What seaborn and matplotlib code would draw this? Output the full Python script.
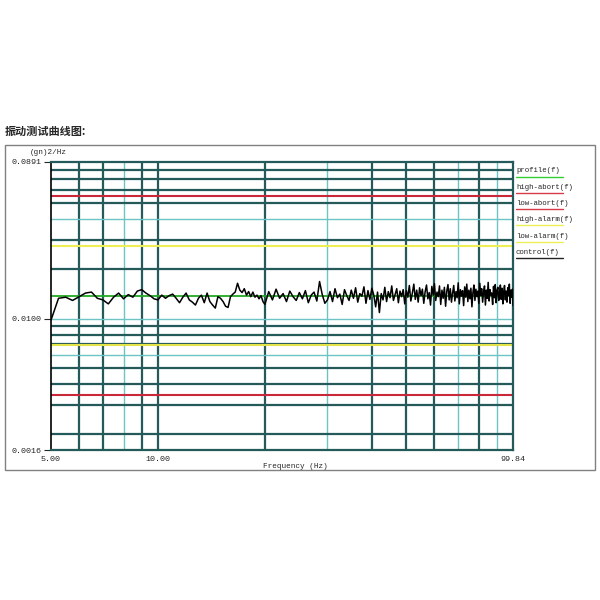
import numpy as np
import seaborn as sns
import matplotlib.pyplot as plt
from matplotlib.patches import Rectangle
from matplotlib.lines import Line2D

# ---- data (PSD in 1e-3 (gn)^2/Hz) ----
# 5-10 Hz and 10-20 Hz at 0.25 Hz, 20-30 Hz and 30-100 Hz at 0.5 Hz
ctrl_5_10 = [9.8, 13.3, 13.5, 12.9, 13.6, 14.3, 14.5, 13.3, 13.0, 12.3,
             13.5, 14.3, 13.2, 14.0, 13.5, 14.7, 15.0, 14.3, 13.8, 13.2]
ctrl_10_20 = [13.0, 13.9, 13.3, 13.8, 14.1, 13.3, 12.5, 13.5, 14.3, 13.0,
              12.6, 12.1, 13.3, 13.9, 12.5, 14.3, 12.7, 12.1, 11.6, 13.6,
              13.3, 12.7, 11.9, 11.7, 13.6, 14.1, 14.5, 16.4, 14.9, 14.4,
              15.2, 13.9, 14.6, 13.6, 14.5, 13.5, 13.9, 13.2, 13.8, 12.7]
ctrl_20_30 = [12.2, 14.6, 13.0, 15.1, 13.3, 14.2, 12.7, 14.7, 13.6, 12.9,
              14.4, 13.2, 14.8, 12.5, 13.9, 14.5, 12.8, 16.8, 14.0, 12.4]
ctrl_30_100 = [13.0, 14.6, 12.7, 15.2, 13.4, 14.1, 12.2, 15.0, 13.8, 12.9,
               14.9, 13.3, 15.4, 12.6, 14.2, 13.7, 15.6, 12.4, 14.8, 13.1,
               15.3, 13.9, 11.8, 14.5, 10.9, 14.2, 13.0, 15.5, 12.7, 14.6,
               13.4, 15.8, 12.9, 14.0, 15.2, 12.5, 14.7, 13.6, 15.0, 12.3,
               14.8, 13.5, 15.9, 12.8, 14.3, 16.2, 13.1, 14.9, 12.6, 15.4,
               13.8, 15.1, 12.4, 14.6, 16.0, 13.2, 14.4, 12.1, 15.7, 13.9,
               16.3, 12.9, 14.5, 13.6, 15.8, 12.2, 14.9, 13.3, 15.5, 11.9,
               14.7, 16.1, 13.0, 15.2, 12.6, 14.3, 15.9, 12.8, 14.6, 13.4,
               16.5, 12.3, 15.0, 13.7, 14.8, 12.0, 15.6, 13.5, 16.2, 12.7,
               14.9, 13.2, 15.3, 11.8, 14.4, 16.0, 12.9, 15.1, 13.6, 14.7,
               12.4, 16.4, 13.8, 15.2, 12.6, 14.5, 15.8, 12.1, 14.9, 13.3,
               16.6, 12.8, 15.0, 13.9, 14.3, 12.2, 15.7, 13.4, 16.1, 12.5,
               14.8, 15.5, 12.9, 14.2, 16.0, 13.1, 15.3, 12.3, 14.6, 15.9,
               13.0, 14.7, 12.6, 15.4, 13.8, 16.2, 12.4, 14.9, 13.5, 15.1,
               12.0]

freq = np.concatenate([np.arange(5.0, 20.0, 0.25),
                       np.arange(20.0, 100.0, 0.5), [99.84]])
control = np.array(ctrl_5_10 + ctrl_10_20 + ctrl_20_30 + ctrl_30_100) * 1e-3

profile = 0.0138
limits = [("high-abort(f)", 0.0552, "#c8283a"),
          ("low-abort(f)", 0.00345, "#c8283a"),
          ("high-alarm(f)", 0.0276, "#eeee55"),
          ("low-alarm(f)", 0.0069, "#e6e24a")]

x_grid_dark = [6, 7, 9, 10, 20, 40, 50, 60, 80]
x_grid_light = [8, 30, 70, 90]
y_grid_dark = [0.08, 0.07, 0.06, 0.05, 0.03, 0.02, 0.009, 0.008, 0.007,
               0.005, 0.004, 0.003, 0.002]
y_grid_light = [0.04, 0.01, 0.006]

legend_items = [("profile(f)", "#33cc33"), ("high-abort(f)", "#d83a4a"),
                ("low-abort(f)", "#d83a4a"), ("high-alarm(f)", "#eeee55"),
                ("low-alarm(f)", "#eeee55"), ("control(f)", "#222222")]

sns.set_style("white")
mono = "Liberation Mono"

fig = plt.figure(figsize=(6, 6), dpi=100)
fig.patch.set_facecolor("white")

# outer box + title
fig.patches.append(Rectangle((5 / 600, 1 - 470 / 600), 590 / 600, 325 / 600,
                             transform=fig.transFigure, fill=False,
                             edgecolor="#808080", lw=1.0))
fig.text(5 / 600, 1 - 131 / 600, "振动测试曲线图:", fontsize=8, fontweight="bold",
         family=["Noto Sans CJK SC", "DejaVu Sans"], va="center", ha="left")

ax = fig.add_axes([51 / 600, 1 - 450 / 600, 462 / 600, 288 / 600])
ax.set_xscale("log")
ax.set_yscale("log")
ax.set_xlim(5, 99.84)
ax.set_ylim(0.0016, 0.0891)

# grid
for x in x_grid_light:
    ax.axvline(x, color="#6cc4c4", lw=1.0, zorder=1)
for x in x_grid_dark:
    ax.axvline(x, color="#245a5a", lw=1.6, zorder=1)
for y in y_grid_light:
    ax.axhline(y, color="#6cc4c4", lw=1.0, zorder=1)
for y in y_grid_dark:
    ax.axhline(y, color="#245a5a", lw=1.6, zorder=1)

# limit lines
ax.axhline(profile, color="#22aa22", lw=1.3, zorder=2)
for name, val, col in limits:
    ax.axhline(val, color=col, lw=1.5, zorder=2)

sns.lineplot(x=freq, y=control, ax=ax, color="black", lw=1.1, zorder=3,
             estimator=None, sort=False)

for s in ["top", "right", "bottom"]:
    ax.spines[s].set_color("#245a5a")
    ax.spines[s].set_linewidth(1.6)
ax.spines["left"].set_color("black")
ax.spines["left"].set_linewidth(1.2)

ax.minorticks_off()
ax.set_yticks([0.0891, 0.01, 0.0016])
ax.set_yticklabels(["0.0891", "0.0100", "0.0016"], family=mono, fontsize=6)
ax.set_xticks([5, 10, 99.84])
ax.set_xticklabels(["5.00", "10.00", "99.84"], family=mono, fontsize=6)
ax.tick_params(axis="y", length=5, width=0.8, pad=2, left=True)
ax.tick_params(axis="x", length=0, pad=4)

fig.text(30 / 600, 1 - 153 / 600, "(gn)2/Hz", family=mono, fontsize=5.5,
         va="center", ha="left")
fig.text(295 / 600, 1 - 466 / 600, "Frequency (Hz)", family=mono, fontsize=5.5,
         va="center", ha="center")

# legend on the right
for i, (name, col) in enumerate(legend_items):
    ty = 171 + i * 16.3
    fig.text(516 / 600, 1 - ty / 600, name, family=mono, fontsize=5.3,
             va="center", ha="left")
    fig.lines.append(Line2D([516 / 600, 563 / 600], [1 - (ty + 5.5) / 600] * 2,
                            transform=fig.transFigure, color=col, lw=1.0))

fig.savefig("out.png", dpi=100)
